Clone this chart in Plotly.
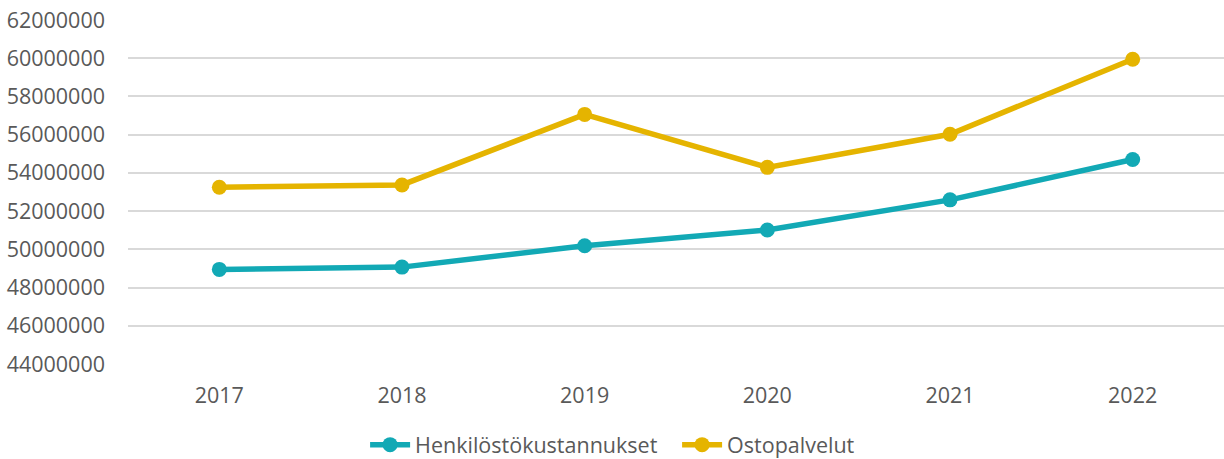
import plotly.graph_objects as go

years = ["2017", "2018", "2019", "2020", "2021", "2022"]
henkilosto = [48950000, 49070000, 50190000, 51010000, 52590000, 54700000]
ostopalvelut = [53250000, 53370000, 57060000, 54290000, 56020000, 59950000]
y_ticks = [44000000, 46000000, 48000000, 50000000, 52000000, 54000000, 56000000, 58000000, 60000000, 62000000]

TEAL = "#12A9B5"
GOLD = "#E5B400"
TXT = "#595959"
FONT = "Open Sans"
FS = 21.5

fig = go.Figure()
fig.add_trace(go.Scatter(x=years, y=henkilosto, name="Henkilöstökustannukset",
                         mode="lines+markers", line=dict(color=TEAL, width=5.5),
                         marker=dict(size=15, color=TEAL)))
fig.add_trace(go.Scatter(x=years, y=ostopalvelut, name="Ostopalvelut",
                         mode="lines+markers", line=dict(color=GOLD, width=5.5),
                         marker=dict(size=15, color=GOLD)))

fig.update_layout(
    width=1224, height=459,
    margin=dict(l=128, r=0, t=20, b=95, autoexpand=False),
    paper_bgcolor="white", plot_bgcolor="white",
    font=dict(family=FONT, size=FS, color=TXT),
    showlegend=True,
    legend=dict(orientation="h", x=0.501, xanchor="center", y=-0.175, yanchor="top",
                font=dict(family=FONT, size=FS, color=TXT), itemwidth=40,
                entrywidth=257, entrywidthmode="pixels",
                traceorder="normal"),
    xaxis=dict(type="category", range=[-0.5, 5.5], showgrid=False, zeroline=False,
               showline=False, ticks="", ticklabelstandoff=16,
               tickfont=dict(family=FONT, size=FS, color=TXT)),
    yaxis=dict(range=[44000000, 62000000], tickvals=y_ticks,
               ticktext=[str(v) for v in y_ticks], showgrid=True,
               gridcolor="#D9D9D9", gridwidth=1.5, zeroline=False, showline=False,
               ticks="", ticklabelstandoff=22,
               tickfont=dict(family=FONT, size=FS, color=TXT)),
)

fig.write_html("out.html", config={"displayModeBar": False},
               post_script="document.body.style.margin='0px';document.body.style.overflow='hidden';")
